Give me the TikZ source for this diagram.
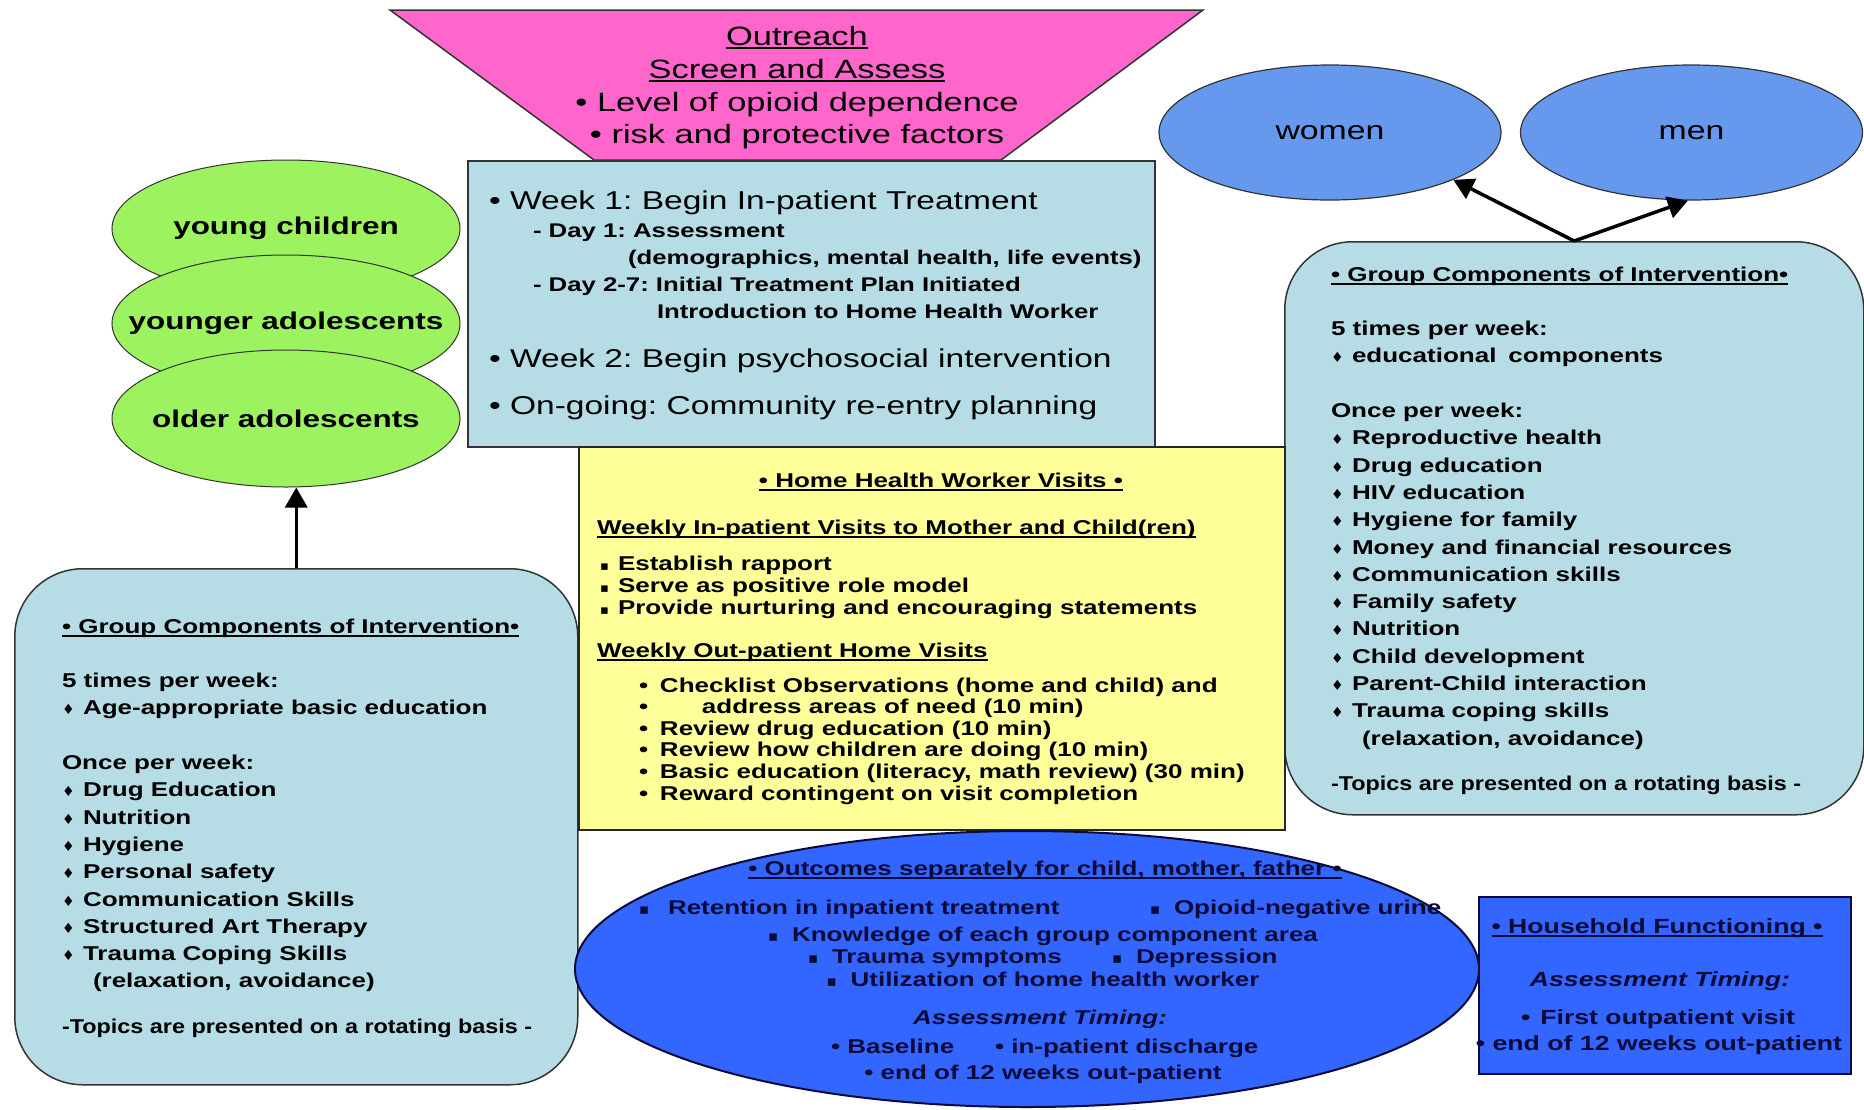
\documentclass[tikz,border=0pt]{standalone}
\usepackage{fontspec}
\setmainfont[FakeStretch=1.3]{Liberation Sans}
\newfontfamily\condf[FakeStretch=1.17]{Liberation Sans}
\newfontfamily\symf{DejaVu Sans}
\usetikzlibrary{shapes.geometric,arrows.meta}

\definecolor{tealfill}{HTML}{B6DDE5}
\definecolor{limefill}{HTML}{9CF35F}
\definecolor{pinkfill}{HTML}{FF66CC}
\definecolor{lemonfill}{HTML}{FFFF99}
\definecolor{skyblue}{HTML}{6699EE}
\definecolor{royalfill}{HTML}{3366FF}
\definecolor{navytext}{HTML}{0B0B3B}
\definecolor{edgegray}{HTML}{333333}

% font size in bp: size, leading
\newcommand\fsz[2]{\fontsize{#1bp}{#2bp}\selectfont}
% thick underline
\newcommand\ulin[1]{\setbox0\hbox{#1}\rlap{\rule[-3.5bp]{\wd0}{1.6bp}}\box0}
% list markers
\newcommand\dia{\makebox[21bp][l]{\symf\fsz{14}{14}♦}}
\newcommand\sqb{\makebox[18bp][l]{\symf\fsz{13}{13}▪}}
\newcommand\sqo{\makebox[24bp][l]{\symf\fsz{15}{15}▪}}
\newcommand\blt{\makebox[21bp][l]{•}}

\begin{document}
\frenchspacing
\begin{tikzpicture}[x=1bp,y=-1bp,
  txt/.style={inner sep=0, outer sep=0, align=left, anchor=north west},
  lineL/.style={inner sep=0, outer sep=0, anchor=base west},
  lineC/.style={inner sep=0, outer sep=0, anchor=base},
  boxfont/.style={font=\fsz{20}{27.3}\bfseries},
  yfont/.style={font=\fsz{20}{22}\bfseries},
  ofont/.style={font=\fsz{20}{24}\bfseries, text=navytext},
  weekfont/.style={font=\fsz{25.8}{30}},
  subfont/.style={font=\fsz{19.8}{24}\bfseries},
  agegroup/.style={ellipse, draw=black!80, line width=1bp, fill=limefill, inner sep=0,
    minimum width=348bp, minimum height=137bp},
  agetext/.style={inner sep=0, font=\fsz{24.2}{29}\bfseries},
  gender/.style={ellipse, draw=edgegray, line width=1.2bp, fill=skyblue, inner sep=0,
    minimum width=342bp, minimum height=135bp, font=\fsz{26}{30}},
  groupbox/.style={draw=edgegray, line width=1.5bp, fill=tealfill, rounded corners=68bp,
    anchor=north west, inner sep=0},
  connector/.style={line width=3.5bp, -{Triangle[length=20bp,width=22bp]}}
]
\useasboundingbox (0,0) rectangle (1864,1109);
\fill[white] (0,0) rectangle (1864,1109);

% outreach funnel
\filldraw[fill=pinkfill, draw=edgegray, line width=1.5bp]
  (390,10) -- (1203,10) -- (1001,160) -- (594,160) -- cycle;
\node[inner sep=0, align=center, anchor=north, font=\fsz{26.5}{32.8}] (outreach) at (797,22.3)
  {\strut\ulin{Outreach}\\\ulin{Screen and Assess}\\• Level of opioid dependence\\• risk and protective factors};

% treatment schedule
\node[draw=edgegray, line width=1.8bp, fill=tealfill, anchor=north west, inner sep=0,
  minimum width=687bp, minimum height=286bp] (week) at (467,160) {};
\node[lineL, weekfont] (w1) at (489,209) {• Week 1: Begin In-patient Treatment};
\node[lineL, subfont] (w1a) at (533,237.5) {- Day 1: Assessment};
\node[lineL, subfont] (w1b) at (628,264.5) {(demographics, mental health, life events)};
\node[lineL, subfont] (w1c) at (533,291.5) {- Day 2-7: Initial Treatment Plan Initiated};
\node[lineL, subfont] (w1d) at (657,318.5) {Introduction to Home Health Worker};
\node[lineL, weekfont] (w2) at (489,367) {• Week 2: Begin psychosocial intervention};
\node[lineL, weekfont] (w3) at (489,414) {• On-going: Community re-entry planning};

% age groups
\node[agegroup] (young) at (286,228.5) {};
\node[agetext] (youngtx) at (young) {young children};
\node[agegroup] (younger) at (286,323.5) {};
\node[agetext] (youngertx) at (younger) {younger adolescents};
\node[agegroup] (older) at (286,418.5) {};
\node[agetext] (oldertx) at (older) {older adolescents};

% children's group components
\node[groupbox, minimum width=563bp, minimum height=516bp] (lgroup) at (14,568) {};
\node[txt, boxfont] (lgtext) at (62,613.9) {\strut\ulin{• Group Components of Intervention•}\\[27.3bp]
  5 times per week:\\
  \dia Age-appropriate basic education\\[27.3bp]
  Once per week:\\
  \dia Drug Education\\
  \dia Nutrition\\
  \dia Hygiene\\
  \dia Personal safety\\
  \dia Communication Skills\\
  \dia Structured Art Therapy\\
  \dia Trauma Coping Skills\\
  \hspace*{31bp}(relaxation, avoidance)\\[18.4bp]
  {\condf -Topics are presented on a rotating basis -}};
\draw[connector] (lgroup.north) -- (lgroup.north |- older.south);

% adults' group components
\node[groupbox, minimum width=579bp, minimum height=573bp] (rgroup) at (1284,241) {};
\node[txt, boxfont] (rgtext) at (1331,261.9) {\strut\ulin{• Group Components of Intervention•}\\[27.3bp]
  5 times per week:\\
  \dia educational\hspace{12bp}components\\[27.3bp]
  Once per week:\\
  \dia Reproductive health\\
  \dia Drug education\\
  \dia HIV education\\
  \dia Hygiene for family\\
  \dia Money and financial resources\\
  \dia Communication skills\\
  \dia Family safety\\
  \dia Nutrition\\
  \dia Child development\\
  \dia Parent-Child interaction\\
  \dia Trauma coping skills\\
  \hspace*{31bp}(relaxation, avoidance)\\[18.4bp]
  {\condf -Topics are presented on a rotating basis -}};
\node[gender] (women) at (1330,132.5) {women};
\node[gender] (men) at (1691.5,132.5) {men};
\draw[connector] (rgroup.north) -- (women.-21);
\draw[connector] (rgroup.north) -- (men.-93);

% home health worker visits
\node[draw=black!85, line width=1.8bp, fill=lemonfill, anchor=north west, inner sep=0,
  minimum width=706bp, minimum height=383bp] (visits) at (578,446) {};
\node[lineC, yfont] (hhtitle) at (941,487) {\ulin{• Home Health Worker Visits •}};
\node[lineL, yfont] (hhin) at (597,534) {\ulin{Weekly In-patient Visits to Mother and Child(ren)}};
\node[txt, yfont] (hhinlist) at (600,554.6) {\strut\sqb Establish rapport\\
  \sqb Serve as positive role model\\
  \sqb Provide nurturing and encouraging statements};
\node[lineL, yfont] (hhout) at (597,657) {\ulin{Weekly Out-patient Home Visits}};
\node[txt, font=\fsz{20}{21.6}\bfseries] (hhoutlist) at (639,676.9) {\strut\blt Checklist Observations (home and child) and\\
  \blt\hspace{42bp}address areas of need (10 min)\\
  \blt Review drug education (10 min)\\
  \blt Review how children are doing (10 min)\\
  \blt Basic education (literacy, math review) (30 min)\\
  \blt Reward contingent on visit completion};

% outcomes
\node[ellipse, draw=navytext, line width=2bp, fill=royalfill, inner sep=0,
  minimum width=904bp, minimum height=276bp] (outcomes) at (1027,969) {};
\node[lineC, ofont] (oc0) at (1045,875) {\ulin{• Outcomes separately for child, mother, father •}};
\node[lineL, ofont] (oc1) at (639,914) {\sqo\hspace{5bp}Retention in inpatient treatment};
\node[lineL, ofont] (oc2) at (1150,914) {\sqo Opioid-negative urine};
\node[lineC, ofont] (oc3) at (1043,941) {\sqo Knowledge of each group component area};
\node[lineL, ofont] (oc4) at (808,963) {\sqo Trauma symptoms};
\node[lineL, ofont] (oc5) at (1112,963) {\sqo Depression};
\node[lineC, ofont] (oc6) at (1043,986) {\sqo Utilization of home health worker};
\node[lineC, ofont, font=\fsz{20}{24}\bfseries\itshape] (oc7) at (1040,1024) {Assessment Timing:};
\node[lineL, ofont] (oc8) at (831,1053) {• Baseline};
\node[lineL, ofont] (oc9) at (995,1053) {• in-patient discharge};
\node[lineC, ofont] (oc10) at (1043,1079) {• end of 12 weeks out-patient};

% household functioning
\node[draw=navytext, line width=2bp, fill=royalfill, anchor=north west, inner sep=0,
  minimum width=372bp, minimum height=177bp] (household) at (1478,896) {};
\node[lineC, ofont, font=\fsz{20.5}{24}\bfseries] (hf0) at (1657,933) {\ulin{• Household Functioning •}};
\node[lineC, ofont, font=\fsz{20.5}{24}\bfseries\itshape] (hf1) at (1660,986) {Assessment Timing:};
\node[lineC, ofont, font=\fsz{20.5}{24}\bfseries] (hf2) at (1658,1024) {•\hspace{10bp}First outpatient visit};
\node[lineC, ofont, font=\fsz{20.5}{24}\bfseries] (hf3) at (1659,1050) {• end of 12 weeks out-patient};
\end{tikzpicture}
\end{document}
